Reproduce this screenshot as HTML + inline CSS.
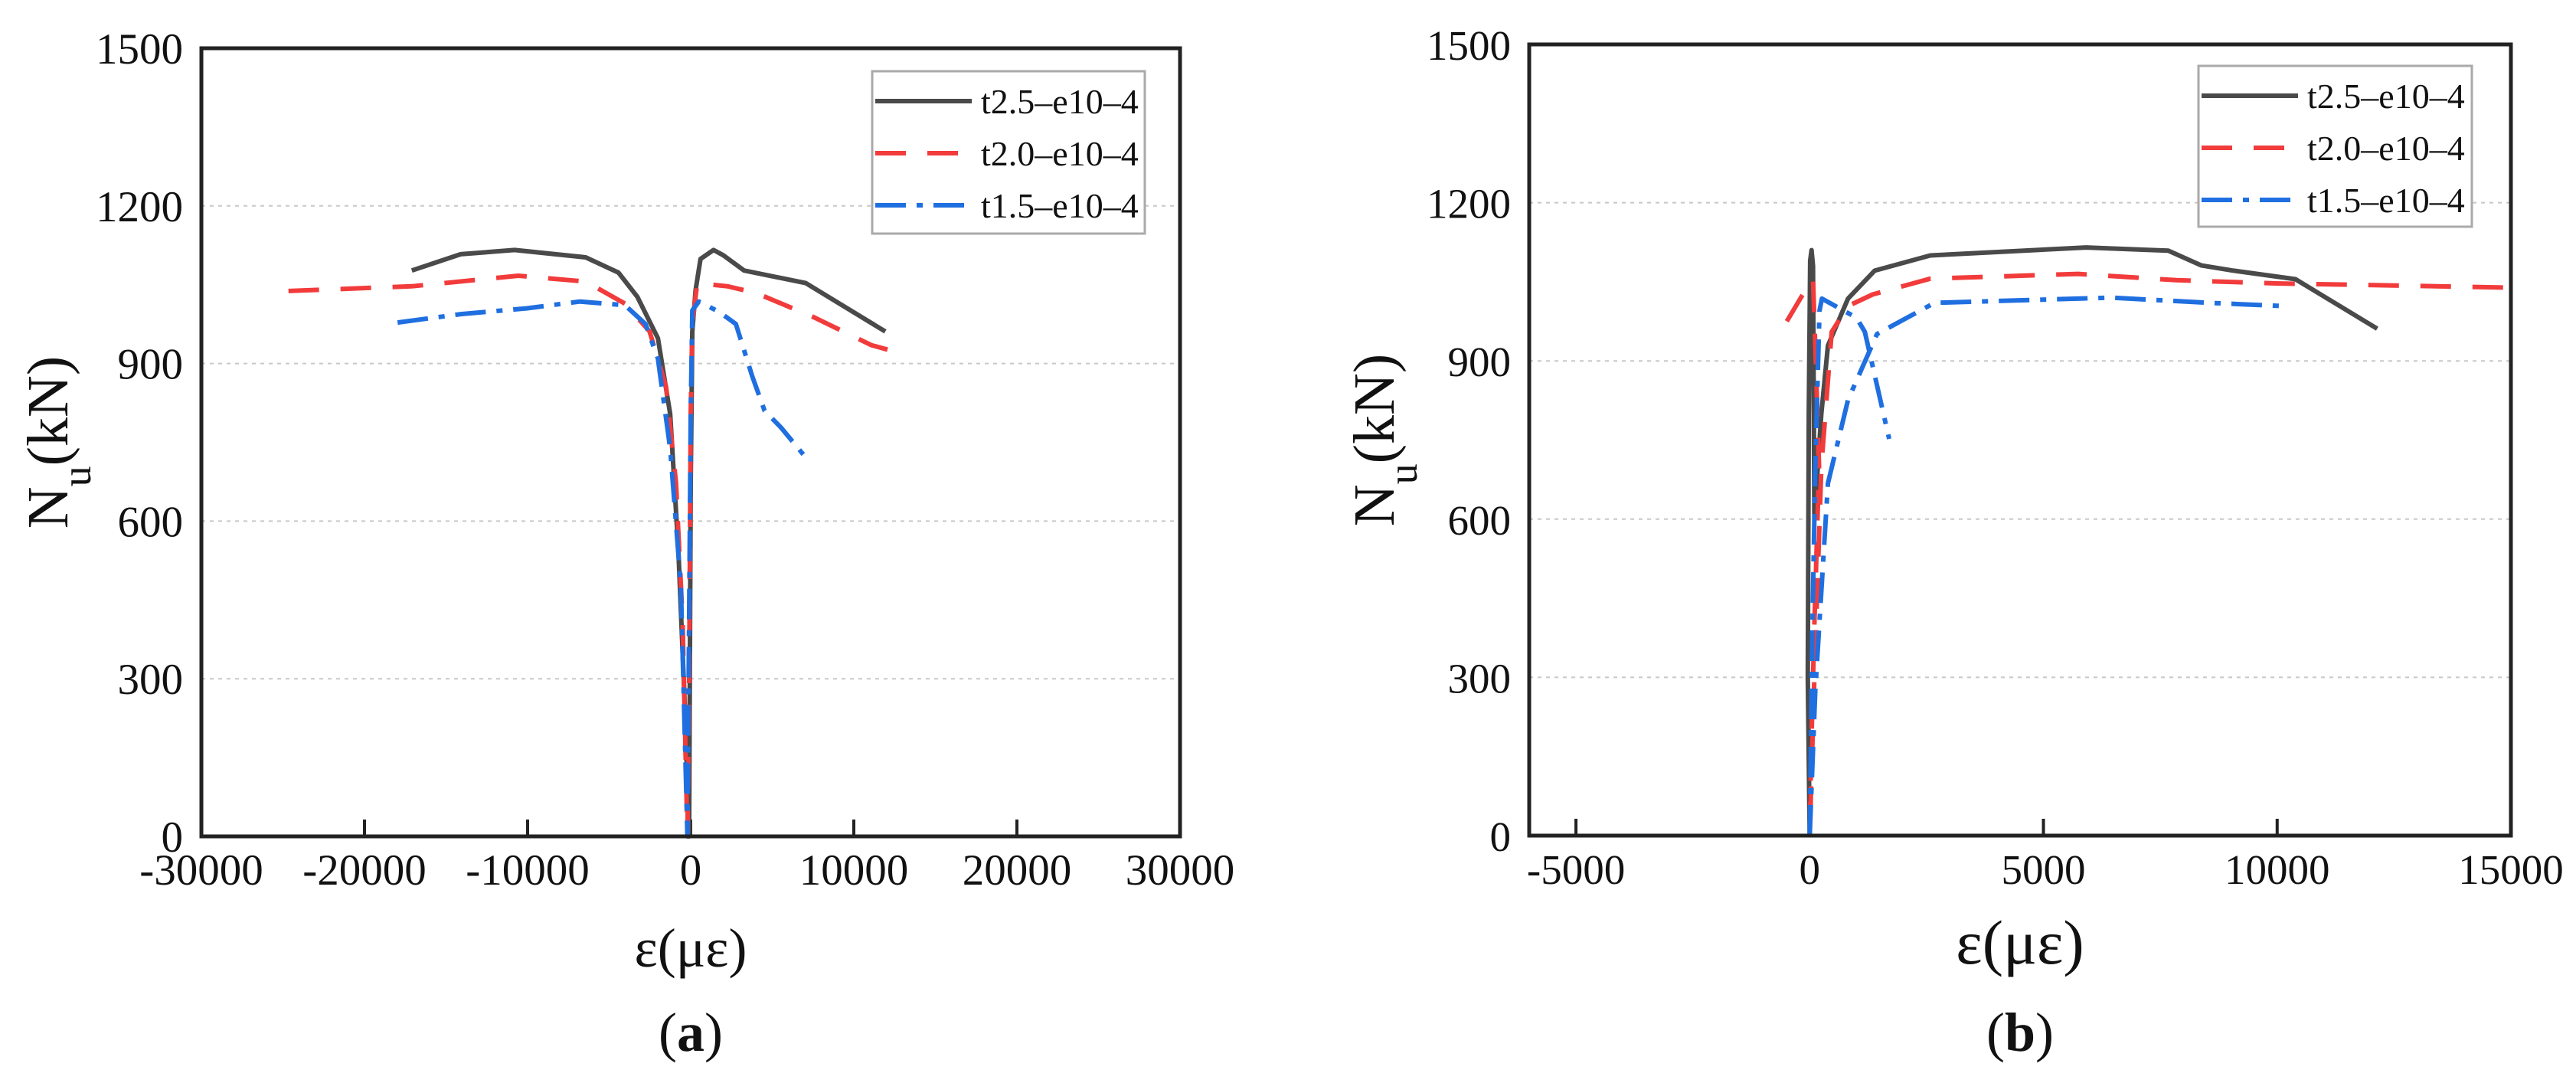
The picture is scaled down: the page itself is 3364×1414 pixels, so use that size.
<!DOCTYPE html>
<html><head><meta charset="utf-8"><style>
html,body{margin:0;padding:0;background:#fff;}
svg{display:block;font-family:"Liberation Serif",serif;}
</style></head><body>
<svg id="fig" width="3364" height="1414" viewBox="0 0 3364 1414"></svg>
<script>
const yTicks=[0,300,600,900,1200,1500];
const xTicksA=[-30000,-20000,-10000,0,10000,20000,30000];
const xTicksB=[-5000,0,5000,10000,15000];
const seriesNames=["t2.5\u2013e10\u20134","t2.0\u2013e10\u20134","t1.5\u2013e10\u20134"];
const a_black=[[-17100,1077],[-14100,1108],[-10800,1116],[-6440,1102],[-4430,1073],[-3270,1027],[-2010,948],[-1260,804],[-750,541],[-400,278],[-100,0],[0,672],[100,961],[300,1040],[600,1099],[1400,1116],[2000,1106],[3270,1077],[7050,1053],[11930,961]];
const a_red=[[-24660,1038],[-17110,1047],[-10570,1067],[-6440,1056],[-4030,1014],[-2520,961],[-1510,856],[-900,673],[-500,410],[-200,0],[-100,278],[0,804],[100,975],[400,1053],[2260,1047],[4030,1034],[7550,988],[11070,935],[12580,922]];
const a_blue=[[-17970,978],[-14090,994],[-10070,1005],[-6800,1018],[-4030,1011],[-2770,975],[-2010,909],[-1260,738],[-600,475],[-200,0],[-100,410],[0,804],[100,1001],[500,1018],[1760,998],[2770,975],[3770,876],[4530,810],[5540,778],[6950,725]];
const b_black=[[0,0],[-40,300],[-20,800],[10,1090],[40,1110],[70,1080],[100,600],[250,800],[390,929],[820,1018],[1390,1071],[2580,1100],[5910,1115],[7670,1109],[8380,1081],[9070,1071],[10390,1055],[12140,961]];
const b_red=[[-490,975],[-140,1027],[70,1055],[130,900],[200,700],[100,400],[30,150],[0,0],[100,300],[250,700],[470,955],[820,1004],[1350,1026],[2580,1056],[5740,1065],[7840,1053],[9950,1047],[15000,1039]];
const b_blue1=[[0,0],[60,400],[120,700],[210,995],[260,1018],[1000,982],[1180,955],[1700,752]];
const b_blue2=[[0,0],[120,275],[390,668],[820,826],[1440,951],[2670,1010],[6440,1020],[8550,1010],[10120,1004]];

const NS="http://www.w3.org/2000/svg";
const svg=document.getElementById('fig');
function mk(tag,attrs,parent){const e=document.createElementNS(NS,tag);for(const k in attrs)e.setAttribute(k,attrs[k]);(parent||svg).appendChild(e);return e;}
const styles=[{stroke:"#4a4a4a",dash:""},{stroke:"#f23b3b",dash:"40 28"},{stroke:"#1f6fe0",dash:"40 14 8 14"}];

function panel(cfg){
  const g=mk('g',{});
  
  
  const sx=v=>cfg.L+(v-cfg.xmin)/(cfg.xmax-cfg.xmin)*(cfg.R-cfg.L);
  const sy=v=>cfg.B-(v-0)/(1500)*(cfg.B-cfg.T);
  yTicks.forEach(t=>{
    if(t>0&&t<1500){const l=mk('line',{x1:cfg.L,x2:cfg.R,y1:sy(t),y2:sy(t),stroke:"#c8c8c8","stroke-width":2,"stroke-dasharray":"5 6"},g);
    }
    const tx=mk('text',{x:cfg.L-24,y:sy(t)+20,"text-anchor":"end","font-size":cfg.fs,fill:"#111"},g);
    tx.textContent=t;
    
  });
  cfg.xt.forEach(t=>{
    const tk=mk('line',{x1:sx(t),x2:sx(t),y1:cfg.B,y2:cfg.B-22,stroke:"#222","stroke-width":4},g);
    
    const tx=mk('text',{x:sx(t),y:cfg.B+63,"text-anchor":"middle","font-size":cfg.fs,fill:"#111"},g);
    tx.textContent=t;
    
  });
  cfg.series.forEach(s=>{
    s.segs.forEach(seg=>{
      const p=mk('polyline',{points:seg.map(d=>sx(d[0]).toFixed(1)+","+sy(d[1]).toFixed(1)).join(" "),fill:"none",stroke:styles[s.i].stroke,"stroke-width":6,"stroke-dasharray":styles[s.i].dash,"stroke-linejoin":"round"},g);
      
    });
  });
  const fr=mk('rect',{x:cfg.L,y:cfg.T,width:cfg.R-cfg.L,height:cfg.B-cfg.T,fill:"none",stroke:"#222","stroke-width":5},g);
  
  const lg=mk('g',{},g);
  
  mk('rect',{x:cfg.lg.x,y:cfg.lg.y,width:cfg.lg.w,height:cfg.lg.h,fill:"#fff",stroke:"#aaa","stroke-width":3},lg);
  seriesNames.forEach((n,i)=>{
    const yy=cfg.lg.y+39+i*68;
    const ln=mk('line',{x1:cfg.lg.x+4,x2:cfg.lg.x+130,y1:yy,y2:yy,stroke:styles[i].stroke,"stroke-width":6,"stroke-dasharray":styles[i].dash},lg);
    
    const tx=mk('text',{x:cfg.lg.x+142,y:yy+16,"font-size":46,fill:"#111"},lg);
    tx.textContent=n;
    
  });
  const xt=mk('text',{x:(cfg.L+cfg.R)/2,y:cfg.xtY,"text-anchor":"middle","font-size":cfg.xtfs,fill:"#111"},g);
  xt.textContent="\u03b5(\u03bc\u03b5)";
  
  const yt=mk('text',{x:0,y:0,"text-anchor":"middle","font-size":76,fill:"#111",transform:`translate(${cfg.ytX},${(cfg.T+cfg.B)/2}) rotate(-90)`},g);
  yt.innerHTML='N<tspan baseline-shift="sub" font-size="54">u</tspan>(kN)';
  
  const cap=mk('text',{x:(cfg.L+cfg.R)/2,y:1372,"text-anchor":"middle","font-size":72,fill:"#111"},g);
  cap.innerHTML='(<tspan font-weight="bold">'+cfg.cap+'</tspan>)';
  
}
panel({name:'chart-a',L:263,R:1541,T:63,B:1092,xmin:-30000,xmax:30000,xt:xTicksA,fs:57,xtfs:72,xtY:1262,ytX:88,cap:'a',
  lg:{x:1139,y:93,w:356,h:212},
  series:[{i:0,key:'t2.5',segs:[a_black]},{i:1,key:'t2.0',segs:[a_red]},{i:2,key:'t1.5',segs:[a_blue]}]});
panel({name:'chart-b',L:1997,R:3279,T:58,B:1091,xmin:-6000,xmax:15000,xt:xTicksB,fs:55,xtfs:82,xtY:1258,ytX:1820,cap:'b',
  lg:{x:2871,y:86,w:357,h:210},
  series:[{i:0,key:'t2.5',segs:[b_black]},{i:1,key:'t2.0',segs:[b_red]},{i:2,key:'t1.5',segs:[b_blue1,b_blue2]}]});
</script>
</body></html>
